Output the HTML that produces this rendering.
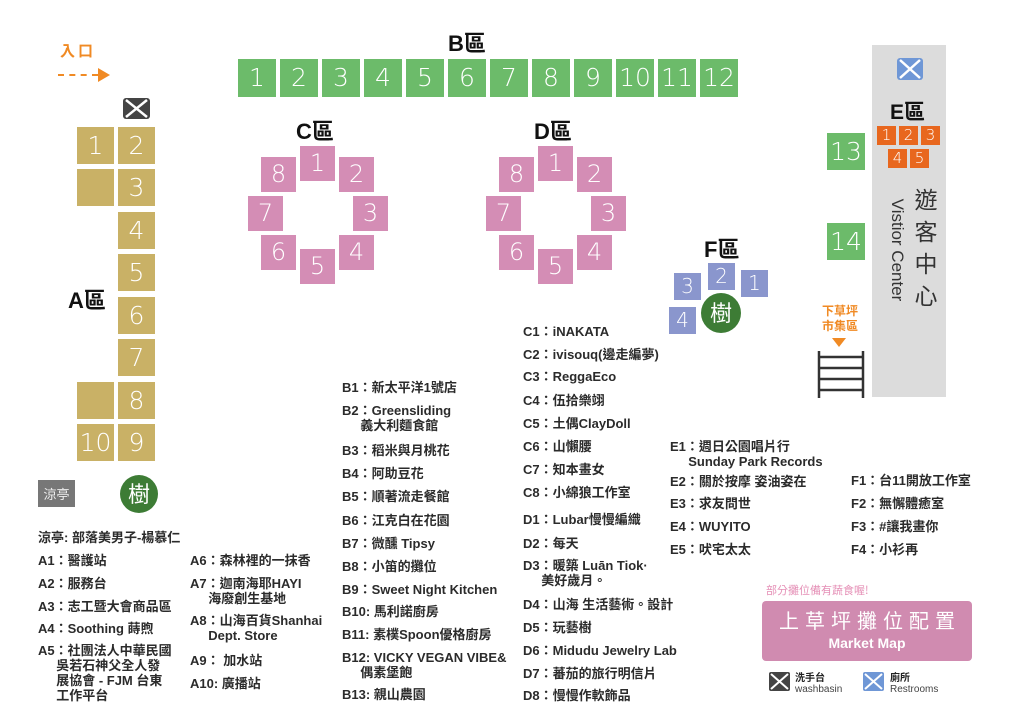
<!DOCTYPE html>
<html><head><meta charset="utf-8"><style>
body{margin:0;width:1024px;height:725px;background:#fff;position:relative;overflow:hidden;font-family:"Liberation Sans","Noto Sans CJK TC",sans-serif;}
.b{position:absolute;color:#fff;text-align:center;font-family:"DejaVu Sans","Liberation Sans",sans-serif;font-weight:300}
.g{background:#6cbb6a;width:38px;height:38px;line-height:38px;font-size:25px;top:59px}
.a{background:#c9b166;width:37px;height:37px;line-height:37px;font-size:25px}
.p{background:#d48db5;width:35px;height:35px;line-height:35px;font-size:24px}
.f{background:#8a96cd;width:27px;height:27px;line-height:27px;font-size:20px}
.o{background:#e8671e;width:19px;height:19px;line-height:19px;font-size:15px}
.t{position:absolute;font-size:13px;font-weight:bold;color:#2b2b2b;white-space:nowrap;line-height:15px;font-family:"Liberation Sans","Noto Sans CJK TC",sans-serif}
.h{position:absolute;font-size:22px;font-weight:bold;color:#111;font-family:"Liberation Sans","Noto Sans CJK TC",sans-serif}
.tree{position:absolute;border-radius:50%;background:#3d7c35;color:#fff;text-align:center;font-family:"Noto Sans CJK TC",sans-serif}
</style></head><body>
<div style="position:absolute;left:60px;top:40px;color:#f08a24;font-size:15px;font-weight:bold;font-family:'Noto Sans CJK TC',sans-serif;letter-spacing:3px">入口</div>
<div style="position:absolute;left:58px;top:74px;width:40px;border-top:2px dashed #f08a24"></div>
<div style="position:absolute;left:98px;top:68px;width:0;height:0;border-left:12px solid #f08a24;border-top:7px solid transparent;border-bottom:7px solid transparent"></div>

<div class="h" style="left:448px;top:26px">B區</div>
<div class="b g" style="left:238px">1</div><div class="b g" style="left:280px">2</div><div class="b g" style="left:322px">3</div><div class="b g" style="left:364px">4</div><div class="b g" style="left:406px">5</div><div class="b g" style="left:448px">6</div><div class="b g" style="left:490px">7</div><div class="b g" style="left:532px">8</div><div class="b g" style="left:574px">9</div><div class="b g" style="left:616px">10</div><div class="b g" style="left:658px">11</div><div class="b g" style="left:700px">12</div>

<svg style="position:absolute;left:123px;top:98px" width="27" height="21"><rect width="27" height="21" rx="3" fill="#444"/><path d="M3 2 L24 19 M24 2 L3 19" stroke="#fff" stroke-width="2.5"/></svg>
<div class="b a" style="left:77px;top:127px">1</div><div class="b a" style="left:118px;top:127px">2</div>
<div class="b a" style="left:77px;top:169px"></div><div class="b a" style="left:118px;top:169px">3</div>
<div class="b a" style="left:118px;top:212px">4</div>
<div class="b a" style="left:118px;top:254px">5</div>
<div class="b a" style="left:118px;top:297px">6</div>
<div class="b a" style="left:118px;top:339px">7</div>
<div class="b a" style="left:77px;top:382px"></div><div class="b a" style="left:118px;top:382px">8</div>
<div class="b a" style="left:77px;top:424px">10</div><div class="b a" style="left:118px;top:424px">9</div>
<div class="h" style="left:68px;top:283px">A區</div>
<div style="position:absolute;left:38px;top:480px;width:37px;height:27px;background:#777;color:#eee;font-size:13px;line-height:27px;text-align:center;font-family:'Noto Sans CJK TC',sans-serif">涼亭</div>
<div class="tree" style="left:120px;top:475px;width:38px;height:38px;line-height:36px;font-size:22px">樹</div>

<div class="h" style="left:296px;top:114px">C區</div>
<div class="b p" style="left:261px;top:157px">8</div><div class="b p" style="left:300px;top:146px">1</div><div class="b p" style="left:339px;top:157px">2</div>
<div class="b p" style="left:248px;top:196px">7</div><div class="b p" style="left:353px;top:196px">3</div>
<div class="b p" style="left:261px;top:235px">6</div><div class="b p" style="left:300px;top:249px">5</div><div class="b p" style="left:339px;top:235px">4</div>
<div class="h" style="left:534px;top:114px">D區</div>
<div class="b p" style="left:499px;top:157px">8</div><div class="b p" style="left:538px;top:146px">1</div><div class="b p" style="left:577px;top:157px">2</div>
<div class="b p" style="left:486px;top:196px">7</div><div class="b p" style="left:591px;top:196px">3</div>
<div class="b p" style="left:499px;top:235px">6</div><div class="b p" style="left:538px;top:249px">5</div><div class="b p" style="left:577px;top:235px">4</div>

<div class="h" style="left:704px;top:232px">F區</div>
<div class="b f" style="left:708px;top:263px">2</div><div class="b f" style="left:741px;top:270px">1</div>
<div class="b f" style="left:674px;top:273px">3</div><div class="b f" style="left:669px;top:307px">4</div>
<div class="tree" style="left:701px;top:293px;width:40px;height:40px;line-height:38px;font-size:22px">樹</div>

<div style="position:absolute;left:872px;top:45px;width:74px;height:352px;background:#dcdcdc"></div>
<svg style="position:absolute;left:897px;top:58px" width="26" height="22"><rect width="26" height="22" rx="3" fill="#6f97d6"/><path d="M3 2 L23 20 M23 2 L3 20" stroke="#fff" stroke-width="2.5"/></svg>
<div class="h" style="left:890px;top:96px;font-size:21px">E區</div>
<div class="b o" style="left:877px;top:126px">1</div><div class="b o" style="left:899px;top:126px">2</div><div class="b o" style="left:921px;top:126px">3</div>
<div class="b o" style="left:888px;top:149px">4</div><div class="b o" style="left:910px;top:149px">5</div>
<div class="b g" style="left:827px;top:133px;width:38px;height:37px;line-height:37px">13</div>
<div class="b g" style="left:827px;top:223px;width:38px;height:37px;line-height:37px">14</div>
<div style="position:absolute;left:913px;top:182px;width:26px;font-size:23px;line-height:32px;color:#333;font-family:'Noto Sans CJK TC',sans-serif;text-align:center">遊<br>客<br>中<br>心</div>
<div style="position:absolute;left:832px;top:240px;width:130px;height:20px;transform:rotate(90deg);font-size:17px;color:#333;line-height:20px;font-family:'Liberation Sans',sans-serif;transform-origin:center;text-align:center">Vistior Center</div>
<div style="position:absolute;left:816px;top:303px;width:48px;text-align:center;color:#f08a24;font-size:12px;font-weight:bold;line-height:15px;font-family:'Noto Sans CJK TC',sans-serif">下草坪<br>市集區</div>
<div style="position:absolute;left:832px;top:338px;border-top:9px solid #f08a24;border-left:7px solid transparent;border-right:7px solid transparent"></div>
<svg style="position:absolute;left:817px;top:351px" width="48" height="47"><g stroke="#333" stroke-width="2.5"><line x1="2" y1="0" x2="2" y2="47"/><line x1="46" y1="0" x2="46" y2="47"/><line x1="2" y1="6" x2="46" y2="6"/><line x1="2" y1="17" x2="46" y2="17"/><line x1="2" y1="28" x2="46" y2="28"/><line x1="2" y1="39" x2="46" y2="39"/></g></svg>

<div class="t" style="left:38px;top:530px">涼亭: 部落美男子-楊慕仁</div>
<div class="t" style="left:38px;top:553px">A1：醫護站</div>
<div class="t" style="left:38px;top:576px">A2：服務台</div>
<div class="t" style="left:38px;top:599px">A3：志工暨大會商品區</div>
<div class="t" style="left:38px;top:621px">A4：Soothing 蒔煦</div>
<div class="t" style="left:38px;top:643px">A5：社團法人中華民國<br>&#12288;&#8201;&#8201;吳若石神父全人發<br>&#12288;&#8201;&#8201;展協會 - FJM 台東<br>&#12288;&#8201;&#8201;工作平台</div>
<div class="t" style="left:190px;top:553px">A6：森林裡的一抹香</div>
<div class="t" style="left:190px;top:576px">A7：迦南海耶HAYI<br>&#12288;&#8201;&#8201;海廢創生基地</div>
<div class="t" style="left:190px;top:613px">A8：山海百貨Shanhai<br>&#12288;&#8201;&#8201;Dept. Store</div>
<div class="t" style="left:190px;top:653px">A9： 加水站</div>
<div class="t" style="left:190px;top:676px">A10: 廣播站</div>

<div class="t" style="left:342px;top:380px">B1：新太平洋1號店</div>
<div class="t" style="left:342px;top:403px">B2：Greensliding<br>&#12288;&#8201;&#8201;義大利麵食館</div>
<div class="t" style="left:342px;top:443px">B3：稻米與月桃花</div>
<div class="t" style="left:342px;top:466px">B4：阿助豆花</div>
<div class="t" style="left:342px;top:489px">B5：順著流走餐館</div>
<div class="t" style="left:342px;top:513px">B6：江克白在花園</div>
<div class="t" style="left:342px;top:536px">B7：微醺 Tipsy</div>
<div class="t" style="left:342px;top:559px">B8：小笛的攤位</div>
<div class="t" style="left:342px;top:582px">B9：Sweet Night Kitchen</div>
<div class="t" style="left:342px;top:604px">B10: 馬利諾廚房</div>
<div class="t" style="left:342px;top:627px">B11: 素樸Spoon優格廚房</div>
<div class="t" style="left:342px;top:650px">B12: VICKY VEGAN VIBE&amp;<br>&#12288;&#8201;&#8201;偶素堡飽</div>
<div class="t" style="left:342px;top:687px">B13: 親山農園</div>

<div class="t" style="left:523px;top:324px">C1：iNAKATA</div>
<div class="t" style="left:523px;top:347px">C2：ivisouq(邊走編夢)</div>
<div class="t" style="left:523px;top:369px">C3：ReggaEco</div>
<div class="t" style="left:523px;top:393px">C4：伍拾樂翊</div>
<div class="t" style="left:523px;top:416px">C5：土偶ClayDoll</div>
<div class="t" style="left:523px;top:439px">C6：山懶腰</div>
<div class="t" style="left:523px;top:462px">C7：知本畫女</div>
<div class="t" style="left:523px;top:485px">C8：小綿狼工作室</div>
<div class="t" style="left:523px;top:512px">D1：Lubar慢慢編織</div>
<div class="t" style="left:523px;top:536px">D2：每天</div>
<div class="t" style="left:523px;top:558px">D3：暖築 Luān Tiok·<br>&#12288;&#8201;&#8201;美好歲月。</div>
<div class="t" style="left:523px;top:597px">D4：山海 生活藝術。設計</div>
<div class="t" style="left:523px;top:620px">D5：玩藝樹</div>
<div class="t" style="left:523px;top:643px">D6：Midudu Jewelry Lab</div>
<div class="t" style="left:523px;top:666px">D7：蕃茄的旅行明信片</div>
<div class="t" style="left:523px;top:688px">D8：慢慢作軟飾品</div>

<div class="t" style="left:670px;top:439px">E1：週日公園唱片行<br>&#12288;&#8201;&#8201;Sunday Park Records</div>
<div class="t" style="left:670px;top:474px">E2：關於按摩 姿油姿在</div>
<div class="t" style="left:670px;top:496px">E3：求友問世</div>
<div class="t" style="left:670px;top:519px">E4：WUYITO</div>
<div class="t" style="left:670px;top:542px">E5：吠宅太太</div>
<div class="t" style="left:851px;top:473px">F1：台11開放工作室</div>
<div class="t" style="left:851px;top:496px">F2：無懈體癒室</div>
<div class="t" style="left:851px;top:519px">F3：#讓我畫你</div>
<div class="t" style="left:851px;top:542px">F4：小衫再</div>

<div style="position:absolute;left:766px;top:582px;color:#e58fb6;font-size:11px;font-family:'Noto Sans CJK TC',sans-serif">部分攤位備有蔬食喔!</div>
<div style="position:absolute;left:762px;top:601px;width:210px;height:60px;background:#d08bb0;border-radius:4px;color:#fff;text-align:center">
<div style="font-size:20px;letter-spacing:6px;margin-top:6px;line-height:26px;font-family:'Noto Sans CJK TC',sans-serif;padding-left:6px">上草坪攤位配置</div>
<div style="font-size:14px;font-weight:bold;line-height:20px;font-family:'Liberation Sans',sans-serif">Market Map</div></div>
<svg style="position:absolute;left:769px;top:672px" width="21" height="19"><rect width="21" height="19" rx="2" fill="#444"/><path d="M2 2 L19 17 M19 2 L2 17" stroke="#fff" stroke-width="2"/></svg>
<div style="position:absolute;left:795px;top:671px;font-size:10px;font-weight:bold;color:#222;font-family:'Noto Sans CJK TC',sans-serif;line-height:12px">洗手台</div>
<div style="position:absolute;left:795px;top:684px;font-size:10px;color:#444;line-height:12px">washbasin</div>
<svg style="position:absolute;left:863px;top:672px" width="21" height="19"><rect width="21" height="19" rx="2" fill="#6f97d6"/><path d="M2 2 L19 17 M19 2 L2 17" stroke="#fff" stroke-width="2"/></svg>
<div style="position:absolute;left:890px;top:671px;font-size:10px;font-weight:bold;color:#222;font-family:'Noto Sans CJK TC',sans-serif;line-height:12px">廁所</div>
<div style="position:absolute;left:890px;top:684px;font-size:10px;color:#444;line-height:12px">Restrooms</div>
</body></html>
